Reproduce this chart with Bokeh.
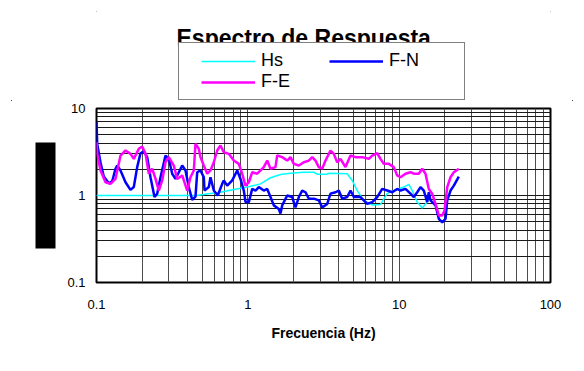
from bokeh.plotting import figure
from bokeh.layouts import column
from bokeh.models import (FixedTicker, NumeralTickFormatter, Legend, LegendItem, Label,
                          LinearAxis, Range1d)
from bokeh.embed import file_html
from bokeh.resources import INLINE

# ---------------- data ----------------
title_text = "Espectro de Respuesta"
x_title = "Frecuencia (Hz)"
series_names = ["Hs", "F-N", "F-E"]
series_colors = ["#00FFFF", "#0000FF", "#FF00FF"]
series_widths = [1.5, 2.5, 2.5]

major_ticks = [0.1, 1, 10, 100]
y_major_ticks = [0.1, 1, 10]

hs_f = [0.1, 0.46, 0.55, 0.66, 0.81, 0.99, 1.213, 1.412, 1.644, 1.914, 2.343, 2.728,
        2.873, 3.346, 3.428, 4.536, 4.894, 5.281, 5.840, 6.637, 7.527, 8.334, 9.217,
        10.73, 11.58, 12.20, 13.16, 14.20, 15.32, 15.70]
hs_v = [1.0, 1.0, 1.05, 1.09, 1.17, 1.25, 1.36, 1.60, 1.74, 1.80, 1.85, 1.85,
        1.76, 1.76, 1.80, 1.78, 1.49, 1.14, 0.88, 0.78, 0.79, 1.05, 1.14,
        1.25, 1.34, 1.14, 0.84, 0.72, 0.84, 0.96]

fn_f = [0.1000, 0.1011, 0.1063, 0.1117, 0.1206, 0.1270, 0.1335, 0.1370, 0.1441, 0.1555,
        0.1677, 0.1764, 0.1857, 0.1953, 0.2054, 0.2163, 0.2274, 0.2417, 0.2518, 0.2648,
        0.2858, 0.3005, 0.3164, 0.3327, 0.3684, 0.3874, 0.4073, 0.4289, 0.4510, 0.4629,
        0.4867, 0.5117, 0.5172, 0.5523, 0.5667, 0.5959, 0.6332, 0.6770, 0.6936, 0.7305,
        0.7886, 0.8506, 0.8944, 0.9406, 0.9653, 1.015, 1.069, 1.124, 1.182, 1.275,
        1.343, 1.412, 1.485, 1.602, 1.644, 1.687, 1.820, 1.964, 2.065, 2.172,
        2.287, 2.405, 2.529, 2.728, 2.944, 3.100, 3.346, 3.518, 3.796, 3.991,
        4.203, 4.536, 4.769, 5.015, 5.553, 6.150, 6.637, 7.158, 7.724, 8.334,
        8.995, 9.706, 10.21, 11.01, 11.88, 12.50, 13.16, 13.84, 14.55, 15.32,
        15.70, 16.11, 17.39, 18.28, 19.25, 20.25, 20.78, 21.85, 22.97, 24.78]
fn_v = [7.0, 3.9, 2.4, 1.65, 1.38, 1.46, 2.03, 2.21, 1.94, 1.42,
        1.16, 1.25, 2.12, 3.06, 3.23, 2.76, 1.62, 0.96, 1.05, 1.62,
        2.88, 2.64, 1.78, 1.55, 2.21, 1.94, 1.25, 0.89, 0.97, 1.85,
        1.94, 1.62, 1.14, 1.25, 1.62, 1.14, 1.0, 1.36, 1.49, 1.30,
        1.49, 1.94, 1.55, 1.14, 0.84, 0.84, 1.19, 1.14, 1.25, 1.14,
        1.19, 0.96, 0.77, 0.70, 0.62, 0.77, 1.0, 0.96, 0.73, 0.96,
        1.14, 1.09, 0.92, 0.92, 0.88, 0.73, 0.80, 1.05, 1.09, 1.14,
        0.92, 0.96, 1.14, 0.96, 0.96, 0.80, 0.84, 0.96, 1.19, 1.14,
        1.09, 1.19, 1.14, 1.19, 1.05, 0.96, 1.09, 1.25, 1.14, 0.84,
        1.09, 0.88, 0.77, 0.54, 0.49, 0.54, 0.88, 1.14, 1.30, 1.65]

fe_f = [0.1000, 0.1011, 0.1063, 0.1147, 0.1237, 0.1335, 0.1441, 0.1555, 0.1677, 0.1764,
        0.1903, 0.2004, 0.2109, 0.2217, 0.2334, 0.2455, 0.2581, 0.2718, 0.2858, 0.3005,
        0.3242, 0.3414, 0.3684, 0.3975, 0.4180, 0.4395, 0.4510, 0.4743, 0.4867, 0.5117,
        0.5390, 0.5667, 0.5959, 0.6275, 0.6597, 0.6936, 0.7485, 0.8077, 0.8716, 0.9179,
        0.9653, 1.015, 1.069, 1.153, 1.213, 1.275, 1.343, 1.412, 1.523, 1.563,
        1.687, 1.820, 1.914, 2.013, 2.172, 2.343, 2.529, 2.663, 2.800, 2.944,
        3.100, 3.260, 3.518, 3.699, 3.896, 4.096, 4.420, 4.769, 5.146, 5.699,
        6.302, 6.637, 7.158, 7.527, 7.914, 8.540, 9.217, 9.706, 10.21, 11.01,
        11.88, 12.50, 13.48, 14.20, 14.93, 15.70, 16.53, 17.39, 18.28, 19.25,
        19.94, 20.78, 21.85, 22.97, 24.78]
fe_v = [4.1, 3.0, 1.94, 1.42, 1.36, 1.55, 2.88, 3.29, 3.01, 2.64,
        3.44, 3.66, 3.01, 1.78, 2.03, 1.55, 1.14, 1.49, 2.41, 2.76,
        2.21, 1.55, 1.70, 1.14, 1.62, 1.94, 3.93, 3.44, 2.76, 2.21,
        1.78, 1.94, 2.41, 3.29, 3.76, 3.14, 3.01, 2.52, 2.31, 1.78,
        1.30, 1.42, 1.85, 1.78, 1.94, 2.12, 2.52, 2.03, 2.12, 2.88,
        2.76, 2.52, 2.76, 2.31, 2.21, 2.41, 2.52, 2.76, 2.52, 2.12,
        2.03, 2.52, 3.29, 3.01, 2.41, 2.64, 2.12, 2.88, 2.76, 2.76,
        2.64, 2.88, 3.06, 2.64, 2.31, 2.31, 2.12, 1.70, 1.62, 1.78,
        1.85, 1.78, 1.78, 2.03, 1.78, 1.19, 1.05, 0.80, 0.59, 0.59,
        0.67, 1.25, 1.62, 1.85, 2.03]

# minor ticks: 2..9 within each decade
x_minor = [m * d for d in [0.1, 1, 10] for m in range(2, 10)]
y_minor = [m * d for d in [0.1, 1] for m in range(2, 10)]

FONT = "Liberation Sans"

# ---------------- header strip: title + legend ----------------
# (its frame is aligned with the chart frame by the column layout)
top = figure(width=584, height=100, x_range=Range1d(96, 550), y_range=Range1d(100, 0),
             x_axis_location=None, y_axis_location=None, toolbar_location=None,
             output_backend="svg", min_border=0, min_border_left=0, min_border_right=0,
             min_border_top=0, min_border_bottom=0, outline_line_color=None,
             background_fill_color="white", border_fill_color="white")
top.grid.visible = False

top.add_layout(Label(x=176, y=37, text=title_text, text_font=FONT,
                     text_font_style="bold", text_font_size="23px",
                     text_align="left", text_baseline="middle", text_color="black"))

# legend keys (kept outside the visible strip)
key_x = [100, 110]
key_y = [-50, -50]
keys = [top.line(key_x, key_y, line_color=c, line_width=w)
        for c, w in zip(series_colors, series_widths)]
legend = Legend(items=[LegendItem(label=n, renderers=[k]) for n, k in zip(series_names, keys)],
                location=(82, 0), orientation="horizontal", ncols=2,
                padding=7, margin=0, spacing=0, glyph_width=54, glyph_height=18,
                label_standoff=6, label_width=68, label_height=18,
                title=" ", title_location="left", title_text_font_size="1px",
                title_standoff=14,
                label_text_font=FONT, label_text_font_size="18px",
                label_text_color="black",
                border_line_color="black", border_line_width=1,
                background_fill_color="white", background_fill_alpha=1)
top.add_layout(legend)

# ---------------- main chart ----------------
p = figure(width=584, height=271, x_axis_type="log", y_axis_type="log",
           x_range=(0.1, 100), y_range=(0.1, 10),
           output_backend="svg", toolbar_location=None,
           min_border_left=96, min_border_right=34, min_border_top=8,
           min_border_bottom=89, background_fill_color="white",
           border_fill_color="white")

p.xaxis.ticker = FixedTicker(ticks=major_ticks, minor_ticks=x_minor)
p.yaxis.ticker = FixedTicker(ticks=y_major_ticks, minor_ticks=y_minor)
p.xaxis.formatter = NumeralTickFormatter(format="0.[0]")
p.yaxis.formatter = NumeralTickFormatter(format="0.[0]")

for ax in (p.xaxis[0], p.yaxis[0]):
    ax.axis_line_color = None
    ax.major_tick_line_color = None
    ax.minor_tick_line_color = None
    ax.major_tick_out = 0
    ax.minor_tick_out = 0
    ax.major_tick_in = 0
    ax.minor_tick_in = 0
    ax.major_label_text_font = FONT
    ax.major_label_text_font_size = "13px"
    ax.major_label_text_color = "black"

p.yaxis.major_label_standoff = 11
p.xaxis.major_label_standoff = 17
p.xaxis.axis_label = x_title
p.xaxis.axis_label_text_font = FONT
p.xaxis.axis_label_text_font_style = "bold"
p.xaxis.axis_label_text_font_size = "14px"
p.xaxis.axis_label_text_color = "black"
p.xaxis.axis_label_standoff = 13

p.xgrid.grid_line_color = "#4d4d4d"
p.xgrid.minor_grid_line_color = "#4d4d4d"
p.ygrid.grid_line_color = "#1a1a1a"
p.ygrid.minor_grid_line_color = "#1a1a1a"

p.outline_line_color = "black"
p.outline_line_width = 2

p.line(hs_f, hs_v, line_color=series_colors[0], line_width=series_widths[0])
p.line(fn_f, fn_v, line_color=series_colors[1], line_width=series_widths[1])
p.line(fe_f, fe_v, line_color=series_colors[2], line_width=series_widths[2])

# black block where the y axis title sits: one very thick tick of a helper axis
spacer = LinearAxis(ticker=FixedTicker(ticks=[1]), major_label_overrides={1: ""},
                    axis_line_color=None, major_tick_line_color=None,
                    minor_tick_line_color=None, major_tick_out=9, major_tick_in=0,
                    minor_tick_out=0, minor_tick_in=0, major_label_standoff=0)
block = LinearAxis(ticker=FixedTicker(ticks=[1]), major_label_overrides={1: ""},
                   axis_line_color=None, major_tick_line_color="black",
                   major_tick_line_width=106, major_tick_line_cap="butt",
                   major_tick_out=20, major_tick_in=0,
                   minor_tick_line_color=None, minor_tick_out=0, minor_tick_in=0,
                   major_label_standoff=0)
p.add_layout(spacer, "left")
p.add_layout(block, "left")

layout = column(top, p, spacing=0,
                styles={"outline": "1px solid black", "outline-offset": "-12px"})

open("out.html", "w").write(file_html(layout, INLINE))
